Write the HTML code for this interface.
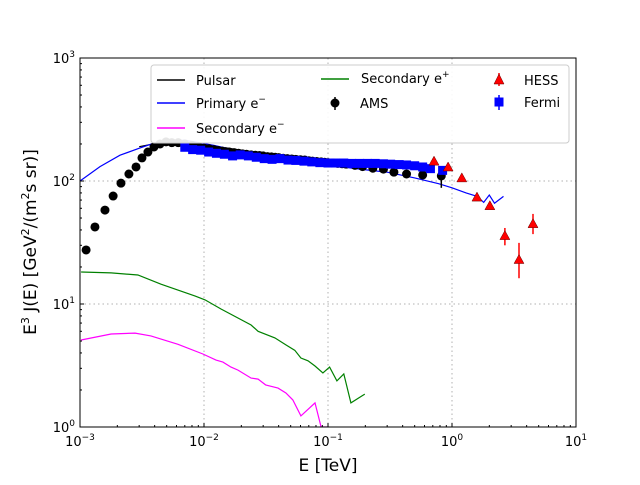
<!DOCTYPE html>
<html><head><meta charset="utf-8"><style>
body{margin:0;background:#fff;}
svg{font-family:"DejaVu Sans","Liberation Sans",sans-serif;}
</style></head><body>
<svg id="chart" width="640" height="480" viewBox="0 0 640 480" xmlns="http://www.w3.org/2000/svg">
<rect x="0" y="0" width="640" height="480" fill="#fff"/>
<g id="grid"></g>
<g id="series"></g>
<rect x="80" y="58" width="496" height="369" fill="none" stroke="#000" stroke-width="1"/>
<g id="ticks"></g>
<text x="328" y="471" font-size="17" text-anchor="middle">E [TeV]</text>
<text transform="translate(36,242) rotate(-90)" font-size="17" text-anchor="middle">E<tspan font-size="11" dy="-7">3</tspan><tspan dy="7"> J(E) [GeV</tspan><tspan font-size="11" dy="-7">2</tspan><tspan dy="7">/(m</tspan><tspan font-size="11" dy="-7">2</tspan><tspan dy="7">s sr)]</tspan></text>
<g>
<rect x="151" y="65" width="418" height="78" rx="3" fill="#fff" fill-opacity="0.9" stroke="#ccc"/>
<line x1="157" y1="80" x2="185" y2="80" stroke="#000" stroke-width="1.5"/><text x="196" y="85" font-size="13">Pulsar</text>
<line x1="157" y1="103" x2="185" y2="103" stroke="#0000ff" stroke-width="1.5"/><text x="196" y="108" font-size="13">Primary e<tspan font-size="9" dy="-6">−</tspan></text>
<line x1="157" y1="128" x2="185" y2="128" stroke="#ff00ff" stroke-width="1.5"/><text x="196" y="133" font-size="13">Secondary e<tspan font-size="9" dy="-6">−</tspan></text>
<line x1="321" y1="79" x2="349" y2="79" stroke="#008000" stroke-width="1.5"/><text x="361" y="83" font-size="13">Secondary e<tspan font-size="9" dy="-6">+</tspan></text>
<circle cx="335" cy="103" r="4.5" fill="#000"/><line x1="335" y1="97" x2="335" y2="110" stroke="#000" stroke-width="1.5"/><text x="360" y="108" font-size="13">AMS</text>
<line x1="499" y1="73" x2="499" y2="86" stroke="red" stroke-width="1.5"/><polygon points="499,74 494,84 504,84" fill="red" stroke="#600" stroke-width="0.5"/><text x="524" y="85" font-size="13">HESS</text>
<line x1="499" y1="95" x2="499" y2="110" stroke="blue" stroke-width="1.5"/><rect x="494.5" y="97.5" width="9" height="9" fill="blue"/><text x="524" y="107" font-size="13">Fermi</text>
</g>
</svg>
<script>
const pulsarE=[3e-3,5e-3,1e-2,2e-2,4e-2,0.1,0.2];
const pulsarV=[190,210,198,178,160,143,133];
const primaryE=[1e-3,1.45e-3,2.1e-3,3.03e-3,4.0e-3,7e-3,1.2e-2,2.5e-2,5e-2,0.1,0.18,0.3,0.5,0.78,1.0,1.3,1.6,1.8,2.0,2.2,2.6];
const primaryV=[100,131,162,185,204,215,195,165,145,135,125,118,106,95,88,80,75,67,77,66,75];
const secPosE=[1.02e-3,1.78e-3,2.93e-3,4.5e-3,8.5e-3,1.02e-2,1.37e-2,2.4e-2,2.73e-2,3.73e-2,4.58e-2,5.4e-2,6.05e-2,6.9e-2,7.86e-2,9.1e-2,0.103,0.118,0.134,0.153,0.181,0.198];
const secPosV=[18.2,17.9,17.2,14.5,11.6,10.8,9.1,6.75,6.0,5.3,4.65,4.2,3.64,3.45,3.13,2.75,3.07,2.37,2.7,1.57,1.75,1.85];
const secElE=[1.02e-3,1.78e-3,2.78e-3,3.73e-3,6.17e-3,9.8e-3,1.25e-2,1.42e-2,1.65e-2,1.88e-2,2.4e-2,2.73e-2,3.14e-2,3.95e-2,4.58e-2,5.2e-2,6.05e-2,7.86e-2,8.8e-2,0.1,0.105];
const secElV=[5.1,5.7,5.8,5.5,4.7,3.92,3.5,3.37,3.07,2.9,2.5,2.45,2.2,2.07,1.89,1.66,1.23,1.57,1.0,1.0,0.9];
const amsE=[1.12e-3,1.32e-3,1.59e-3,1.85e-3,2.14e-3,2.48e-3,2.83e-3,3.16e-3,3.53e-3,3.95e-3,4.42e-3,4.94e-3,5.5e-3,6.2e-3,7e-3,8e-3,9e-3,1e-2,1.1e-2,1.2e-2,1.3e-2,1.4e-2,1.5e-2,1.6e-2,1.75e-2,1.9e-2,2.05e-2,2.2e-2,2.4e-2,2.6e-2,2.8e-2,3e-2,3.25e-2,3.5e-2,3.75e-2,4e-2,4.35e-2,4.7e-2,5.1e-2,5.5e-2,6e-2,6.5e-2,7e-2,7.5e-2,8.1e-2,8.8e-2,0.094,0.1,0.11,0.12,0.13,0.14,0.165,0.19,0.23,0.28,0.34,0.43,0.58,0.82];
const amsV=[27.5,42.3,58,75.5,96,114,130,154,172,189,200,208,205,205,200,195,190,185,183,180,177,175,173,172,170,168,166,165,163,162,161,160,158,157,156,155,153,152,151,150,149,148,146,145,144,143,142,141,140,139,138,137,134,131,127,125,118,114,112,110];
const amsErr=[0,0,0,0,0,0,0,0,0,0,0,0,0,0,0,0,0,0,0,0,0,0,0,0,0,0,0,0,0,0,0,0,0,0,0,0,0,0,0,0,0,0,0,0,0,0,0,0,0,0,0,0,0,0,0,0,0,0,3,22];
const fermiE=[7.0e-3,8.1e-3,9.4e-3,1.09e-2,1.26e-2,1.46e-2,1.7e-2,1.96e-2,2.28e-2,2.64e-2,3.06e-2,3.54e-2,4.1e-2,4.76e-2,5.5e-2,6.4e-2,7.4e-2,8.6e-2,0.1,0.115,0.134,0.155,0.18,0.208,0.24,0.28,0.32,0.375,0.43,0.5,0.58,0.67,0.84];
const fermiV=[188,180,178,172,168,165,160,163,160,156,152,150,152,148,147,145,143,141,140,140,140,139,139,139,139,138,137,136,135,133,130,126,122];
const hessE=[0.716,0.93,1.2,1.59,2.02,2.67,3.47,4.5];
const hessV=[145,130,106,74,63,36,23,45];
const hessLo=[140,124,102,71,60,30,16.2,37];
const hessHi=[150,136,110,77,66,41.5,31.4,54];

const NS="http://www.w3.org/2000/svg";
const X0=80,X1=576,Y0=58,Y1=427;
function xs(e){return X0+(Math.log10(e)+3)/4*(X1-X0);}
function ys(v){return Y1-Math.log10(v)/3*(Y1-Y0);}
function mk(tag,attrs,parent){const el=document.createElementNS(NS,tag);for(const k in attrs)el.setAttribute(k,attrs[k]);parent.appendChild(el);return el;}
const grid=document.getElementById('grid'),ser=document.getElementById('series'),tk=document.getElementById('ticks');
const clip=mk('clipPath',{id:'pc'},document.getElementById('chart'));
mk('rect',{x:X0,y:Y0,width:X1-X0,height:Y1-Y0},clip);
ser.setAttribute('clip-path','url(#pc)');
const xExp=[-3,-2,-1,0,1];
const yExp=[0,1,2,3];
xExp.forEach(p=>{const x=xs(Math.pow(10,p));
 if(p>-3&&p<1){const g=mk('line',{x1:x,y1:Y0,x2:x,y2:Y1,stroke:'#b0b0b0','stroke-dasharray':'1.5,3'},grid);
 
 }
 mk('line',{x1:x,y1:Y1,x2:x,y2:Y1-4,stroke:'#000'},tk);
 const t=mk('text',{x:x,y:Y1+19,'font-size':13,'text-anchor':'middle'},tk);
 
 
 t.innerHTML='10<tspan font-size="9" dy="-6">'+(p<0?'−'+(-p):p)+'</tspan>';
 if(p<1)for(let m=2;m<10;m++){const xm=xs(m*Math.pow(10,p));mk('line',{x1:xm,y1:Y1,x2:xm,y2:Y1-2,stroke:'#000'},tk);}
});
yExp.forEach(p=>{const y=ys(Math.pow(10,p));
 if(p>0&&p<3){const g=mk('line',{x1:X0,y1:y,x2:X1,y2:y,stroke:'#b0b0b0','stroke-dasharray':'1.5,3'},grid);
 
 }
 mk('line',{x1:X0,y1:y,x2:X0+4,y2:y,stroke:'#000'},tk);
 const t=mk('text',{x:X0-5,y:y+5,'font-size':13,'text-anchor':'end'},tk);
 
 
 t.innerHTML='10<tspan font-size="9" dy="-6">'+p+'</tspan>';
 if(p<3)for(let m=2;m<10;m++){const ym=ys(m*Math.pow(10,p));mk('line',{x1:X0,y1:ym,x2:X0+2,y2:ym,stroke:'#000'},tk);}
});
function line(E,V,color,name){const d=E.map((e,i)=>(i?'L':'M')+xs(e).toFixed(1)+','+ys(V[i]).toFixed(1)).join('');
 const p=mk('path',{d:d,fill:'none',stroke:color,'stroke-width':1.2},ser);
 
 }
line(pulsarE,pulsarV,'#000','pulsar-line');
line(primaryE,primaryV,'#0000ff','primary-electron-line');
line(secElE,secElV,'#ff00ff','secondary-electron-line');
line(secPosE,secPosV,'#008000','secondary-positron-line');
amsE.forEach((e,i)=>{const x=xs(e),y=ys(amsV[i]);
 if(amsErr[i]>0)mk('line',{x1:x,y1:ys(amsV[i]+amsErr[i]),x2:x,y2:ys(amsV[i]-amsErr[i]),stroke:'#000','stroke-width':1.5},ser);
 const c=mk('circle',{cx:x,cy:y,r:4.5,fill:'#000'},ser);
 
 });
fermiE.forEach((e,i)=>{const x=xs(e),y=ys(fermiV[i]);
 const r=mk('rect',{x:x-4.5,y:y-4.5,width:9,height:9,fill:'#0000ff'},ser);
 
 });
hessE.forEach((e,i)=>{const x=xs(e),y=ys(hessV[i]);
 mk('line',{x1:x,y1:ys(hessHi[i]),x2:x,y2:ys(hessLo[i]),stroke:'red','stroke-width':1.5},ser);
 const t=mk('polygon',{points:`${x},${y-5} ${x-5},${y+4} ${x+5},${y+4}`,fill:'red',stroke:'#600','stroke-width':0.5},ser);
 
 });
</script>
</body></html>
